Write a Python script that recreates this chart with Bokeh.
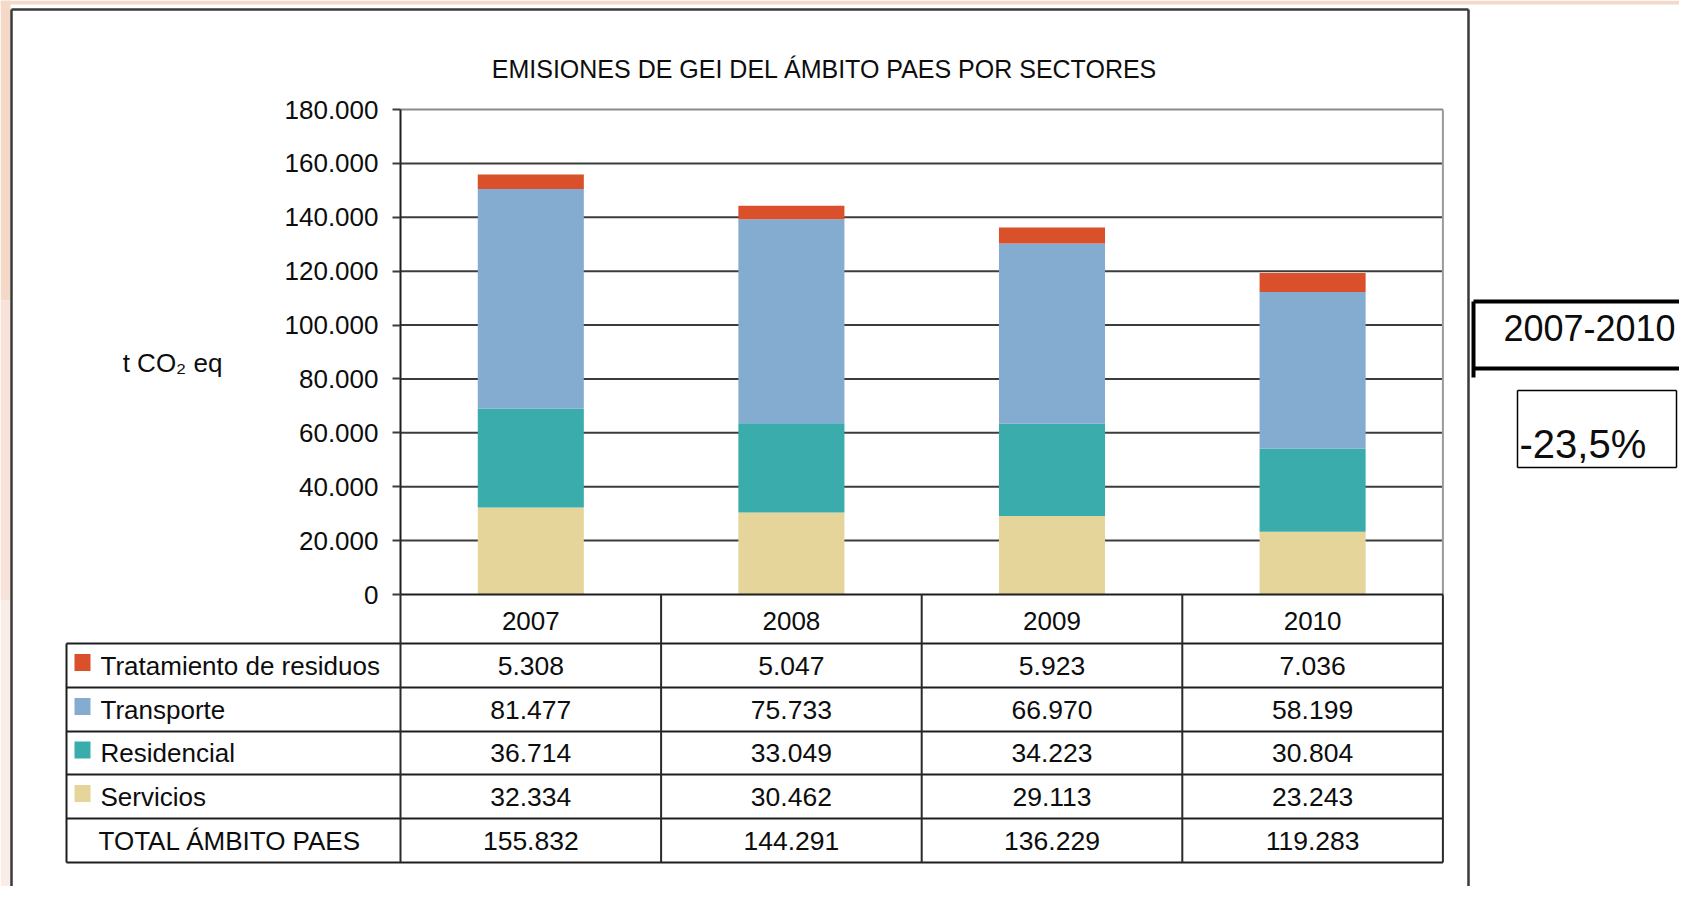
from bokeh.plotting import figure
from bokeh.models import ColumnDataSource, LinearAxis, FixedTicker, Range1d, Label
from bokeh.core.properties import value
from bokeh.embed import file_html
from bokeh.resources import INLINE

# ---------------- data ----------------
years = ["2007", "2008", "2009", "2010"]
sector_names = ["Tratamiento  de residuos", "Transporte", "Residencial", "Servicios"]
tratamiento = [5308, 5047, 5923, 7036]
transporte = [81477, 75733, 66970, 58199]
residencial = [36714, 33049, 34223, 30804]
servicios = [32334, 30462, 29113, 23243]
totales = [155832, 144291, 136229, 119283]
total_label = "TOTAL ÁMBITO PAES"
y_ticks = [0, 20000, 40000, 60000, 80000, 100000, 120000, 140000, 160000, 180000]
y_tick_labels = ["0", "20.000", "40.000", "60.000", "80.000", "100.000",
                 "120.000", "140.000", "160.000", "180.000"]
title_text = "EMISIONES DE GEI DEL ÁMBITO PAES POR SECTORES"
unit_text = "t CO₂ eq"
period_text = "2007-2010"
change_text = "-23,5%"

C_TRAT = "#d9502a"
C_TRANS = "#84acd0"
C_RES = "#3aacac"
C_SERV = "#e6d59b"

FONT = "Liberation Sans"
TXT = "#0d0d0d"

# ---------------- layout (figure pixels) ----------------
W, H = 1679, 886
PLOT_L = 400.0
CAT_W = 260.6
Y0_PX = 594.0
YT_PX = 109.0
YMAX = y_ticks[-1]
ncat = len(years)

x_start = -PLOT_L / CAT_W
x_end = x_start + W / CAT_W
upp = YMAX / (Y0_PX - YT_PX)
y_end = YMAX + YT_PX * upp
y_start = -(H - Y0_PX) * upp


def X(px):
    return x_start + px / CAT_W


def Y(py):
    return y_end - py * upp


def fmt(v):
    return f"{v:,}".replace(",", ".")


p = figure(width=W, height=H, x_range=Range1d(x_start, x_end),
           y_range=Range1d(y_start, y_end), x_axis_type=None, y_axis_type=None,
           min_border=0, toolbar_location=None, output_backend="svg",
           outline_line_color=None, background_fill_color="white",
           border_fill_color="white")

# peach page strips (top and left)
p.quad(left=X(0), right=X(W), top=Y(0), bottom=Y(4), fill_color="#f4d8c8",
       line_color=None)
p.quad(left=[X(0)] * 3, right=[X(10)] * 3, top=[Y(0), Y(300), Y(600)],
       bottom=[Y(300), Y(600), Y(H)], fill_color=["#f4d8c8", "#f7e3d9", "#faede7"],
       line_color=None)

# outer frame
p.quad(left=X(10), right=X(1469), top=Y(9), bottom=Y(H), fill_color="white",
       line_color=None)
p.segment(x0=[X(11), X(11), X(1468)], y0=[Y(9), Y(9), Y(9)],
          x1=[X(11), X(1468), X(1468)], y1=[Y(H), Y(9), Y(H)],
          line_color="#3a3a3a", line_width=2.5)

# gridlines
xs = [i + 0.5 for i in range(ncat)]
inner = y_ticks[1:-1]
p.segment(x0=[0] * len(inner), x1=[ncat] * len(inner), y0=inner, y1=inner,
          line_color="#3c3c3c", line_width=2)
p.segment(x0=[0], x1=[ncat], y0=[YMAX], y1=[YMAX], line_color="#8a8a8a", line_width=2)
p.segment(x0=[ncat], x1=[ncat], y0=[0], y1=[YMAX], line_color="#9a9a9a", line_width=2)

# stacked bars
src = ColumnDataSource(dict(x=xs, servicios=servicios, residencial=residencial,
                            transporte=transporte, tratamiento=tratamiento))
p.vbar_stack(["servicios", "residencial", "transporte", "tratamiento"], x="x",
             width=0.407, color=[C_SERV, C_RES, C_TRANS, C_TRAT], source=src,
             line_color=None)

# zero line
p.segment(x0=[0], x1=[ncat], y0=[0], y1=[0], line_color="#1e1e1e", line_width=2)

# y axis
ax = LinearAxis(fixed_location=0, bounds=(0, YMAX), ticker=FixedTicker(ticks=y_ticks),
                major_label_overrides={t: l for t, l in zip(y_ticks, y_tick_labels)},
                major_tick_out=8, major_tick_in=0, minor_tick_out=0, minor_tick_in=0,
                axis_line_width=2, axis_line_color="#1e1e1e",
                major_tick_line_width=2, major_tick_line_color="#3c3c3c",
                major_label_text_font=FONT, major_label_text_font_size="26px",
                major_label_text_color=TXT, major_label_standoff=14)
p.add_layout(ax, "left")

# ---------------- table ----------------
row_lines = [643, 687, 731, 774, 818, 862]
TBL_L = 66
TBL_B = row_lines[-1]
p.segment(x0=[X(TBL_L)] * len(row_lines), x1=[ncat] * len(row_lines),
          y0=[Y(r) for r in row_lines], y1=[Y(r) for r in row_lines],
          line_color="#1e1e1e", line_width=2)
p.segment(x0=[X(TBL_L)], x1=[X(TBL_L)], y0=[Y(row_lines[0])], y1=[Y(TBL_B)],
          line_color="#1e1e1e", line_width=2)
vx = list(range(ncat + 1))
p.segment(x0=vx, x1=vx, y0=[0] * len(vx), y1=[Y(TBL_B)] * len(vx),
          line_color="#2a2a2a", line_width=2)

# header (years)
p.text(x=xs, y=[Y(620)] * ncat, text=years, text_align="center",
       text_baseline="middle", text_font=value(FONT), text_font_size="26px",
       text_color=TXT)

rows = [tratamiento, transporte, residencial, servicios, totales]
row_colors = [C_TRAT, C_TRANS, C_RES, C_SERV]
centers = [(row_lines[i] + row_lines[i + 1]) / 2 for i in range(len(rows))]
for i, vals in enumerate(rows):
    p.text(x=xs, y=[Y(centers[i])] * ncat, text=[fmt(v) for v in vals],
           text_align="center", text_baseline="middle", text_font=value(FONT),
           text_font_size="26.5px", text_color=TXT)

p.rect(x=[X(82)] * 4, y=[Y(c - 3) for c in centers[:4]], width=16, height=17,
       width_units="screen", height_units="screen", fill_color=row_colors,
       line_color=None)
p.text(x=[X(100)] * 4, y=[Y(c) for c in centers[:4]], text=sector_names,
       text_align="left", text_baseline="middle", text_font=value(FONT),
       text_font_size="26px", text_color=TXT)
p.text(x=[X(98)], y=[Y(centers[4])], text=[total_label], text_align="left",
       text_baseline="middle", text_font=value(FONT), text_font_size="26px",
       text_color=TXT)

# ---------------- title and unit ----------------
p.add_layout(Label(x=X(824), y=Y(68), text=title_text, text_align="center",
                   text_baseline="middle", text_font=FONT, text_font_size="25px",
                   text_color=TXT))
p.add_layout(Label(x=X(172), y=Y(362), text=unit_text, text_align="center",
                   text_baseline="middle", text_font=FONT, text_font_size="26px",
                   text_color=TXT))

# ---------------- right boxes ----------------
p.segment(x0=[X(1473), X(1473), X(1473)], y0=[Y(301), Y(368), Y(301)],
          x1=[X(W + 5), X(W + 5), X(1473)], y1=[Y(301), Y(368), Y(377)],
          line_color="#000000", line_width=4)
p.add_layout(Label(x=X(1589), y=Y(327), text=period_text, text_align="center",
                   text_baseline="middle", text_font=FONT, text_font_size="36px",
                   text_color=TXT))

BX_R = 1676
p.segment(x0=[X(1517), X(1517), X(1517), X(BX_R)], y0=[Y(390), Y(467), Y(390), Y(390)],
          x1=[X(BX_R), X(BX_R), X(1517), X(BX_R)], y1=[Y(390), Y(467), Y(467), Y(467)],
          line_color="#000000", line_width=1.5)
p.add_layout(Label(x=X(1519), y=Y(443), text=change_text, text_align="left",
                   text_baseline="middle", text_font=FONT, text_font_size="40px",
                   text_color=TXT))

open("out.html", "w").write(file_html(p, INLINE))
